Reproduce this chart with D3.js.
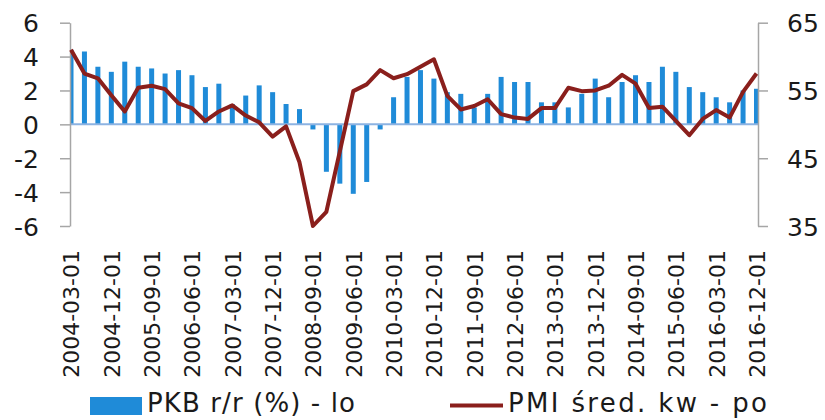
<!DOCTYPE html>
<html>
<head>
<meta charset="utf-8">
<script src="https://cdn.jsdelivr.net/npm/d3@7"></script>
<style>
  html, body { margin: 0; padding: 0; background: #fff; }
  svg { display: block; font-family: "DejaVu Sans", sans-serif; }
</style>
</head>
<body>
<svg id="chart" width="825" height="420"></svg>
<script>
const categories = [
  "2004-03-01","2004-06-01","2004-09-01","2004-12-01",
  "2005-03-01","2005-06-01","2005-09-01","2005-12-01",
  "2006-03-01","2006-06-01","2006-09-01","2006-12-01",
  "2007-03-01","2007-06-01","2007-09-01","2007-12-01",
  "2008-03-01","2008-06-01","2008-09-01","2008-12-01",
  "2009-03-01","2009-06-01","2009-09-01","2009-12-01",
  "2010-03-01","2010-06-01","2010-09-01","2010-12-01",
  "2011-03-01","2011-06-01","2011-09-01","2011-12-01",
  "2012-03-01","2012-06-01","2012-09-01","2012-12-01",
  "2013-03-01","2013-06-01","2013-09-01","2013-12-01",
  "2014-03-01","2014-06-01","2014-09-01","2014-12-01",
  "2015-03-01","2015-06-01","2015-09-01","2015-12-01",
  "2016-03-01","2016-06-01","2016-09-01","2016-12-01"
];
const gdpValues = [
  4.4, 4.3, 3.4, 3.1, 3.7, 3.4, 3.3, 3.0, 3.2, 2.9, 2.2, 2.4,
  1.2, 1.7, 2.3, 1.9, 1.2, 0.9, -0.3, -2.8, -3.5, -4.1, -3.4, -0.3,
  1.6, 2.8, 3.2, 2.7, 1.9, 1.8, 1.0, 1.8, 2.8, 2.5, 2.5, 1.3,
  1.3, 1.0, 1.8, 2.7, 1.6, 2.5, 2.9, 2.5, 3.4, 3.1, 2.2, 1.9,
  1.6, 1.3, 2.0, 2.1
];
const pmiValues = [
  61.0, 57.5, 56.8, 54.3, 51.9, 55.4, 55.7, 55.2, 53.1, 52.4, 50.5, 51.9,
  52.8, 51.3, 50.3, 48.2, 49.7, 44.4, 35.0, 37.1, 46.0, 54.9, 55.9, 58.0,
  56.8, 57.4, 58.5, 59.6, 54.2, 52.2, 52.7, 53.7, 51.5, 51.0, 50.8, 52.4,
  52.4, 55.4, 54.9, 55.0, 55.7, 57.3, 56.0, 52.4, 52.6, 50.5, 48.4, 50.8,
  52.1, 51.0, 54.8, 57.5
];
const tickLabels = [
  "2004-03-01","2004-12-01","2005-09-01","2006-06-01","2007-03-01","2007-12-01",
  "2008-09-01","2009-06-01","2010-03-01","2010-12-01","2011-09-01","2012-06-01",
  "2013-03-01","2013-12-01","2014-09-01","2015-06-01","2016-03-01","2016-12-01"
];
const leftTicks = [-6, -4, -2, 0, 2, 4, 6];
const rightTicks = [35, 45, 55, 65];
const seriesNames = ["PKB r/r (%) - lo", "PMI śred. kw - po"];

const svg = d3.select("#chart");
const plotLeft = 70, plotRight = 758, plotTop = 22.7, plotBottom = 226;

const x = d3.scalePoint().domain(categories).range([71, 756.5]);
const yL = d3.scaleLinear().domain([-6, 6]).range([plotBottom, plotTop]);
const yR = d3.scaleLinear().domain([35, 65]).range([plotBottom, plotTop]);

const barColor = "#1f8bd8";
const lineColor = "#8a1f1c";
const axisColor = "#a6a6a6";

svg.append("defs").append("clipPath").attr("id", "plotclip")
  .append("rect").attr("x", plotLeft).attr("y", 0)
  .attr("width", plotRight - plotLeft).attr("height", 420);

// bars
const barW = 5;
svg.append("g").attr("clip-path", "url(#plotclip)")
  .selectAll("rect").data(gdpValues).join("rect")
  .attr("x", (d, i) => x(categories[i]) - barW / 2)
  .attr("width", barW)
  .attr("y", d => Math.min(yL(d), yL(0)))
  .attr("height", d => Math.abs(yL(d) - yL(0)))
  .attr("fill", barColor);

// zero line
svg.append("line")
  .attr("x1", plotLeft).attr("x2", plotRight)
  .attr("y1", yL(0)).attr("y2", yL(0))
  .attr("stroke", "#8db3e2").attr("stroke-width", 2);

const plainFmt = d => String(d);

// left axis
const gL = svg.append("g").attr("transform", `translate(${plotLeft},0)`)
  .call(d3.axisLeft(yL).tickValues(leftTicks).tickSize(10).tickPadding(21).tickSizeOuter(0)
    .tickFormat(plainFmt));
gL.select(".domain").attr("stroke", axisColor).attr("stroke-width", 1.5);
gL.selectAll(".tick line").attr("stroke", axisColor).attr("stroke-width", 1.5);
gL.selectAll(".tick text").attr("font-size", 25).attr("fill", "#1a1a1a")
  .attr("font-family", "DejaVu Sans, sans-serif").attr("dy", "0.36em");

// right axis
const gR = svg.append("g").attr("transform", `translate(${plotRight},0)`)
  .call(d3.axisRight(yR).tickValues(rightTicks).tickSize(10).tickPadding(19).tickSizeOuter(0)
    .tickFormat(plainFmt));
gR.select(".domain").attr("stroke", axisColor).attr("stroke-width", 1.5);
gR.selectAll(".tick line").attr("stroke", axisColor).attr("stroke-width", 1.5);
gR.selectAll(".tick text").attr("font-size", 25).attr("fill", "#1a1a1a")
  .attr("font-family", "DejaVu Sans, sans-serif").attr("dy", "0.36em");

// PMI line
svg.append("path")
  .datum(pmiValues)
  .attr("fill", "none")
  .attr("stroke", lineColor)
  .attr("stroke-width", 4)
  .attr("stroke-linejoin", "round")
  .attr("d", d3.line().x((d, i) => x(categories[i])).y(d => yR(d)));

// x tick labels
const gX = svg.append("g").attr("transform", `translate(0,250)`)
  .call(d3.axisBottom(x).tickValues(tickLabels).tickSize(0).tickPadding(0));
gX.select(".domain").remove();
gX.selectAll(".tick text")
  .attr("font-size", 22).attr("fill", "#1a1a1a")
  .attr("font-family", "DejaVu Sans, sans-serif")
  .attr("transform", "rotate(-90)")
  .attr("text-anchor", "end")
  .attr("x", 0).attr("y", 0).attr("dy", "0.36em");

// legend
const leg = svg.append("g");
leg.append("rect").attr("x", 90).attr("y", 397).attr("width", 52).attr("height", 18).attr("fill", barColor);
leg.append("text").attr("x", 147).attr("y", 412).attr("font-size", 26).attr("fill", "#1a1a1a")
  .attr("textLength", 208).attr("lengthAdjust", "spacing").text(seriesNames[0]);
leg.append("line").attr("x1", 450).attr("x2", 503).attr("y1", 405.5).attr("y2", 405.5)
  .attr("stroke", lineColor).attr("stroke-width", 4);
leg.append("text").attr("x", 508).attr("y", 412).attr("font-size", 26).attr("fill", "#1a1a1a")
  .attr("textLength", 259).attr("lengthAdjust", "spacing").text(seriesNames[1]);
</script>
</body>
</html>
